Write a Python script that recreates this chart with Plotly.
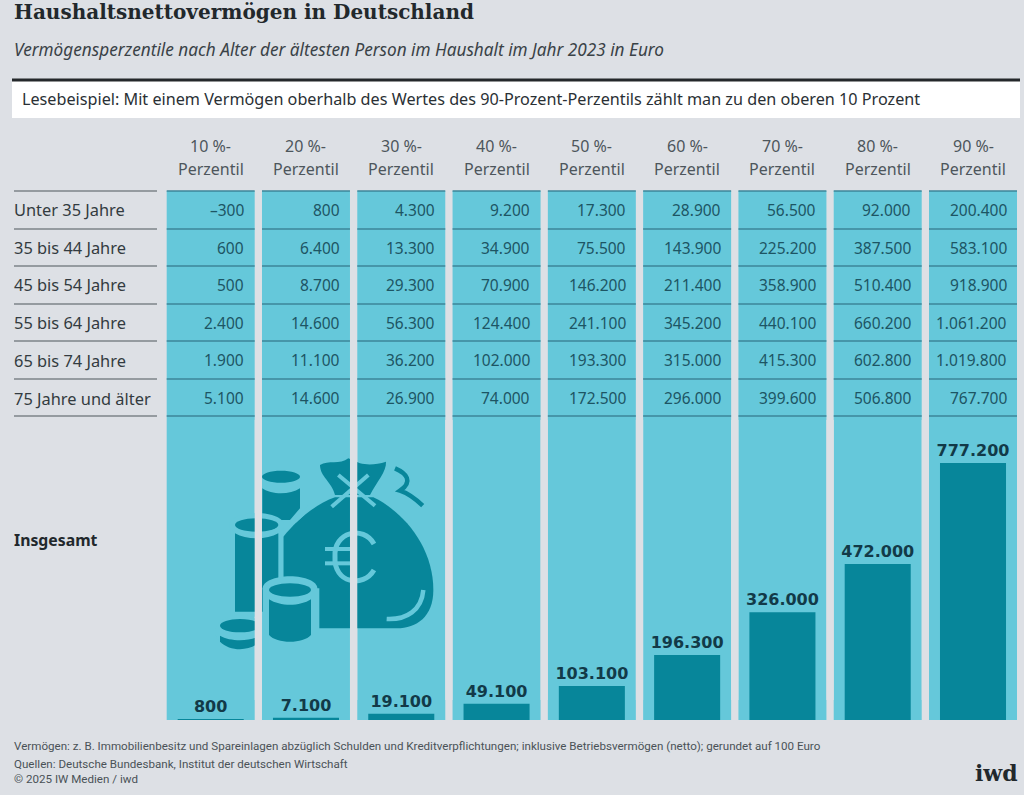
"""Haushaltsnettovermoegen in Deutschland - table with bars below."""
import plotly.graph_objects as go

W, H = 1024, 795

percentiles = ["10 %-", "20 %-", "30 %-", "40 %-", "50 %-", "60 %-", "70 %-", "80 %-", "90 %-"]
age_groups = ["Unter 35 Jahre", "35 bis 44 Jahre", "45 bis 54 Jahre", "55 bis 64 Jahre",
              "65 bis 74 Jahre", "75 Jahre und älter"]
under_35 = [-300, 800, 4300, 9200, 17300, 28900, 56500, 92000, 200400]
age_35_44 = [600, 6400, 13300, 34900, 75500, 143900, 225200, 387500, 583100]
age_45_54 = [500, 8700, 29300, 70900, 146200, 211400, 358900, 510400, 918900]
age_55_64 = [2400, 14600, 56300, 124400, 241100, 345200, 440100, 660200, 1061200]
age_65_74 = [1900, 11100, 36200, 102000, 193300, 315000, 415300, 602800, 1019800]
age_75_up = [5100, 14600, 26900, 74000, 172500, 296000, 399600, 506800, 767700]
insgesamt = [800, 7100, 19100, 49100, 103100, 196300, 326000, 472000, 777200]
rows = [under_35, age_35_44, age_45_54, age_55_64, age_65_74, age_75_up]

BG = "#dde0e5"
COL = "#65c8da"
DARK = "#07869a"
RULE = "#3c8698"
TEXT = "#2f3b42"
BODY = "Noto Sans"
SMALL = "Roboto"

row_lines = [191, 229, 266, 304, 341, 379, 416]
row_text = [209.5, 247.5, 285, 322.5, 360, 398]


def py(v):
    return 1 - v / H


def fmt(v):
    s = f"{abs(v):,}".replace(",", ".")
    return "–" + s if v < 0 else s


def zp(x, y):
    # icon was measured in a 3x crop starting at (200, 440)
    return f"{(200 + x / 3) / W:.5f},{py(440 + y / 3):.5f}"


def path(cmds):
    out = []
    for c in cmds:
        out.append(c[0] + " " + " ".join(zp(*p) for p in c[1:]))
    return " ".join(out)


def ellipse(cx, cy, rx, ry):
    k = 0.5523
    return [("M", (cx - rx, cy)),
            ("C", (cx - rx, cy - k * ry), (cx - k * rx, cy - ry), (cx, cy - ry)),
            ("C", (cx + k * rx, cy - ry), (cx + rx, cy - k * ry), (cx + rx, cy)),
            ("C", (cx + rx, cy + k * ry), (cx + k * rx, cy + ry), (cx, cy + ry)),
            ("C", (cx - k * rx, cy + ry), (cx - rx, cy + k * ry), (cx - rx, cy)),
            ("Z",)]


shapes = []


def fill_shape(cmds, color=DARK):
    shapes.append(dict(type="path", xref="paper", yref="paper", path=path(cmds),
                       fillcolor=color, line=dict(width=0), layer="below"))


def stroke_shape(cmds, color=COL, width=4):
    shapes.append(dict(type="path", xref="paper", yref="paper", path=path(cmds),
                       line=dict(color=color, width=width), layer="below"))


# columns
for i in range(len(percentiles)):
    shapes.append(dict(type="rect", xref="x", yref="paper", x0=i - 0.4617, x1=i + 0.4617,
                       y0=py(720), y1=py(191), fillcolor=COL, line=dict(width=0), layer="below"))

# money bag icon
fill_shape(ellipse(243, 110, 57, 18))
fill_shape([("M", (187, 145)), ("L", (187, 240)), ("L", (270, 240)), ("L", (300, 205)),
            ("L", (300, 145)), ("C", (270, 165), (215, 165), (187, 145)), ("Z",)])
fill_shape([("M", (360, 75)), ("C", (385, 60), (420, 75), (445, 55)), ("L", (480, 70)),
            ("C", (500, 75), (530, 75), (558, 65)), ("C", (560, 95), (530, 125), (510, 165)),
            ("L", (405, 165)), ("C", (395, 125), (360, 110), (360, 75)), ("Z",)])
stroke_shape([("M", (585, 85)), ("C", (620, 100), (640, 125), (600, 152)),
              ("C", (625, 160), (650, 180), (668, 197))], DARK, 4.5)
fill_shape([("M", (405, 172)), ("L", (520, 172)), ("C", (610, 215), (700, 320), (700, 450)),
            ("C", (700, 530), (650, 565), (590, 565)), ("L", (250, 565)), ("L", (250, 290)),
            ("C", (290, 240), (350, 190), (405, 172)), ("Z",)])
stroke_shape([("M", (285, 243)), ("L", (330, 200))], COL, 4)
stroke_shape([("M", (395, 200)), ("L", (505, 105))], COL, 4)
stroke_shape([("M", (525, 197)), ("L", (415, 105))], COL, 4)
stroke_shape([("M", (560, 537)), ("C", (620, 540), (665, 510), (670, 450))], COL, 4.5)
stroke_shape([("M", (522, 312)), ("C", (490, 255), (400, 275), (405, 350)),
              ("C", (400, 430), (490, 445), (522, 390))], COL, 5)
stroke_shape([("M", (375, 327)), ("L", (460, 327))], COL, 4)
stroke_shape([("M", (375, 370)), ("L", (460, 370))], COL, 4)
# tall coin
fill_shape([("M", (92, 260)), ("L", (250, 260)), ("L", (250, 530)), ("L", (92, 530)), ("Z",)], COL)
fill_shape(ellipse(170, 255, 82, 36), COL)
fill_shape(ellipse(170, 255, 65, 20))
fill_shape([("M", (105, 280)), ("C", (140, 300), (200, 300), (235, 280)), ("L", (235, 515)),
            ("L", (105, 515)), ("Z",)])
# front coin
fill_shape(ellipse(270, 445, 82, 36), COL)
fill_shape([("M", (188, 445)), ("L", (358, 445)), ("L", (358, 570)), ("L", (188, 570)), ("Z",)], COL)
fill_shape(ellipse(270, 450, 63, 20))
fill_shape([("M", (207, 478)), ("C", (240, 500), (300, 500), (333, 478)), ("L", (333, 585)),
            ("C", (310, 612), (230, 612), (207, 585)), ("Z",)])
# small coin
fill_shape(ellipse(120, 575, 75, 50), COL)
fill_shape(ellipse(120, 557, 60, 20))
fill_shape([("M", (60, 587)), ("C", (90, 605), (150, 605), (180, 587)), ("L", (180, 605)),
            ("C", (150, 635), (90, 635), (60, 605)), ("Z",)])

# gaps between the columns cut through the icon
for i in range(len(percentiles) - 1):
    shapes.append(dict(type="rect", xref="x", yref="paper", x0=i + 0.4617, x1=i + 0.5383,
                       y0=py(700), y1=py(420), fillcolor=BG, line=dict(width=0), layer="below"))

# table rules
for y in row_lines:
    shapes.append(dict(type="line", xref="paper", yref="paper", x0=14 / W, x1=157 / W,
                       y0=py(y), y1=py(y), line=dict(color="#7d8488", width=1.3)))
    for i in range(len(percentiles)):
        shapes.append(dict(type="line", xref="x", yref="paper", x0=i - 0.4617, x1=i + 0.4617,
                           y0=py(y), y1=py(y), line=dict(color=RULE, width=1.3)))

# header rule and reading example box
shapes.append(dict(type="rect", xref="paper", yref="paper", x0=12 / W, x1=1020 / W,
                   y0=py(118), y1=py(81), fillcolor="#ffffff", line=dict(width=0), layer="below"))
shapes.append(dict(type="line", xref="paper", yref="paper", x0=12 / W, x1=1020 / W,
                   y0=py(80), y1=py(80), line=dict(color="#24282b", width=3)))

annotations = []


def note(text, x, y, size, color=TEXT, family=BODY, xanchor="left", xref="paper"):
    annotations.append(dict(text=text, x=x, y=py(y), xref=xref, yref="paper", showarrow=False,
                            xanchor=xanchor, yanchor="middle", align=xanchor,
                            font=dict(size=size, color=color, family=family)))


note("<b>Haushaltsnettovermögen in Deutschland</b>", 12 / W, 12.5, 20, "#22282c", "DejaVu Serif")
note("<i>Vermögensperzentile nach Alter der ältesten Person im Haushalt im Jahr 2023 in Euro</i>",
     12 / W, 50, 17.2, "#3a4247")
note("Lesebeispiel: Mit einem Vermögen oberhalb des Wertes des 90-Prozent-Perzentils zählt man zu den oberen 10 Prozent",
     19.5 / W, 99, 16.2, "#2a3034")

for i, p in enumerate(percentiles):
    note(p, i, 146, 16, "#4d565c", xanchor="center", xref="x")
    note("Perzentil", i, 169, 16, "#4d565c", xanchor="center", xref="x")

for label, vals, y in zip(age_groups, rows, row_text):
    note(label, 12 / W, y, 16.4, "#333b40")
    for i, v in enumerate(vals):
        note(fmt(v), i + 0.375, y, 15.5, "#1d5564", xanchor="right", xref="x")

note("<b>Insgesamt</b>", 12 / W, 540, 15.8, "#22282c")

note("Vermögen: z. B. Immobilienbesitz und Spareinlagen abzüglich Schulden und Kreditverpflichtungen; inklusive Betriebsvermögen (netto); gerundet auf 100 Euro",
     12 / W, 746, 11.6, "#4a5257", SMALL)
note("Quellen: Deutsche Bundesbank, Institut der deutschen Wirtschaft",
     12 / W, 764, 11.6, "#4a5257", SMALL)
note("© 2025 IW Medien / iwd", 12 / W, 779, 11.6, "#4a5257", SMALL)
note("<b>iwd</b>", 1020 / W, 773, 22, "#22282c", "DejaVu Serif", xanchor="right")

fig = go.Figure(go.Bar(
    x=list(range(len(insgesamt))),
    y=insgesamt,
    width=0.693,
    marker=dict(color=DARK, line=dict(width=0)),
    text=[fmt(v) for v in insgesamt],
    textposition="outside",
    constraintext="none",
    cliponaxis=False,
    textfont=dict(family="DejaVu Sans", size=16, color="#123a48", weight="bold"),
    hoverinfo="skip",
))

fig.update_layout(
    width=W, height=H,
    margin=dict(l=0, r=0, t=0, b=0),
    paper_bgcolor=BG, plot_bgcolor="rgba(0,0,0,0)",
    showlegend=False,
    xaxis=dict(domain=[163.05 / W, 1020.65 / W], range=[-0.5, 8.5], visible=False, fixedrange=True),
    yaxis=dict(domain=[py(720), py(418)], range=[0, 302 / (257 / 777200)], visible=False, fixedrange=True),
    shapes=shapes,
    annotations=annotations,
)

fig.write_html("out.html", config={"displayModeBar": False},
               post_script="document.body.style.margin='0';")
